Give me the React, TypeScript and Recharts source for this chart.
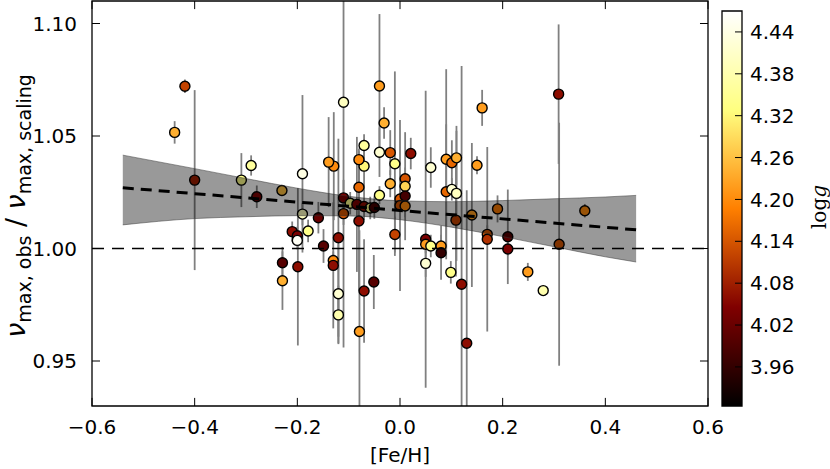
import React from "react";
import {
  ComposedChart,
  Scatter,
  ErrorBar,
  Area,
  Line,
  XAxis,
  YAxis,
  ReferenceLine,
  ReferenceArea,
} from "recharts";

// stars: [Fe/H], nu_max ratio, error on the ratio, log g
const feh = [
  -0.419, -0.439, -0.4, -0.309, -0.29, -0.279, -0.23, -0.19, -0.19, -0.159,
  -0.21, -0.2, -0.2, -0.179, -0.149, -0.12, -0.01, 0.05, 0.05, 0.06,
  0.08, 0.08, 0.05, 0.099, 0.12, 0.13, 0.17, 0.17, 0.21, 0.21,
  0.249, 0.279, 0.31, 0.309, 0.36, 0.19, 0.14, 0.109, 0.16, 0.06,
  0.09, 0.101, 0.11, 0.15, 0.09, 0.101, 0.11, 0.021, -0.019, -0.04,
  -0.01, 0.01, 0.01, -0.019, -0.04, -0.08, -0.07, -0.07, -0.08, -0.129,
  -0.139, -0.11, -0.031, -0.04, -0.11, -0.097, -0.084, -0.07, -0.058, -0.05,
  0.0, 0.01, 0.0, 0.01, -0.11, -0.08, -0.229, -0.229, -0.199, -0.13,
  -0.13, -0.12, -0.12, -0.079, -0.07, -0.051,
];
const ratio = [
  1.0721, 1.0516, 1.0304, 1.0304, 1.0369, 1.023, 1.0258, 1.0332, 1.0153, 1.0137,
  1.0075, 1.0057, 1.0036, 1.0078, 1.0011, 1.0048, 1.0062, 1.0041, 1.0019, 1.0011,
  1.0011, 0.9981, 0.9934, 0.9894, 0.9841, 0.9579, 1.0063, 1.0041, 1.0052, 0.9998,
  0.9896, 0.9813, 1.0019, 1.0686, 1.0168, 1.0176, 1.0149, 1.0126, 1.0625, 1.036,
  1.0397, 1.0381, 1.0403, 1.037, 1.0252, 1.0263, 1.0245, 1.0422, 1.0426, 1.0428,
  1.0377, 1.031, 1.0277, 1.0288, 1.0237, 1.0272, 1.0458, 1.0366, 1.0395, 1.0366,
  1.0384, 1.065, 1.0558, 1.0722, 1.0225, 1.0201, 1.0196, 1.0187, 1.018, 1.0182,
  1.022, 1.0233, 1.0191, 1.0189, 1.0155, 1.0122, 0.9937, 0.9857, 0.9919, 0.9947,
  0.9925, 0.9799, 0.9705, 0.9631, 0.9811, 0.9851,
];
const ratioErr = [
  0.003, 0.005, 0.04, 0.012, 0.0045, 0.005, 0.002, 0.035, 0.005, 0.007,
  0.0045, 0.004, 0.004, 0.005, 0.0075, 0.044, 0.008, 0.066, 0.004, 0.005,
  0.005, 0.012, 0.006, 0.005, 0.097, 0.068, 0.004, 0.041, 0.021, 0.003,
  0.004, 0.002, 0.054, 0.031, 0.003, 0.006, 0.032, 0.025, 0.008, 0.009,
  0.04, 0.01, 0.012, 0.004, 0.03, 0.005, 0.03, 0.007, 0.01, 0.011,
  0.041, 0.005, 0.024, 0.006, 0.004, 0.01, 0.005, 0.012, 0.005, 0.024,
  0.02, 0.109, 0.007, 0.032, 0.008, 0.005, 0.03, 0.006, 0.005, 0.005,
  0.005, 0.004, 0.038, 0.005, 0.005, 0.031, 0.007, 0.013, 0.035, 0.004,
  0.028, 0.022, 0.013, 0.045, 0.023, 0.012,
];
const logg = [
  4.12, 4.24, 4.08, 4.34, 4.36, 4.04, 4.26, 4.44, 4.4, 4.02,
  4.06, 4.04, 4.46, 4.34, 4.0, 4.06, 4.12, 4.04, 4.22, 4.34,
  4.22, 3.96, 4.42, 4.34, 4.06, 4.06, 4.14, 4.1, 4.0, 4.04,
  4.22, 4.38, 4.14, 4.06, 4.2, 4.18, 4.22, 4.12, 4.22, 4.42,
  4.22, 4.16, 4.24, 4.22, 4.16, 4.42, 4.4, 4.06, 4.14, 4.42,
  4.34, 4.14, 4.28, 4.24, 4.34, 4.16, 4.36, 4.32, 4.2, 4.2,
  4.22, 4.4, 4.24, 4.22, 4.04, 4.34, 4.04, 4.06, 4.34, 3.98,
  4.14, 3.98, 4.14, 4.2, 4.14, 4.06, 4.0, 4.24, 4.06, 4.2,
  4.06, 4.42, 4.38, 4.22, 4.06, 4.0,
];

// confidence band and fitted line
const bandFeh = [-0.54, -0.4, -0.3, -0.2, -0.1, 0.0, 0.1, 0.2, 0.3, 0.4, 0.46];
const bandLo = [1.0105, 1.0133, 1.0141, 1.0146, 1.0145, 1.0128, 1.0095, 1.0053, 1.0008, 0.9963, 0.994];
const bandHi = [1.0415, 1.0355, 1.0311, 1.0268, 1.0232, 1.0212, 1.0208, 1.0213, 1.0221, 1.0229, 1.0236];
const fitFeh = [-0.54, 0.46];
const fitRatio = [1.027, 1.0083];

const xTicks = [-0.6, -0.4, -0.2, 0, 0.2, 0.4, 0.6];
const yTicks = [0.95, 1.0, 1.05, 1.1];
const cbTicks = [3.96, 4.02, 4.08, 4.14, 4.2, 4.26, 4.32, 4.38, 4.44];

const X_DOMAIN: [number, number] = [-0.6, 0.6];
const Y_DOMAIN: [number, number] = [0.93, 1.11];
const LOGG_MIN = 3.904;
const LOGG_MAX = 4.47;
// inward tick length (~8px) expressed in axis units
const TICK_DY = 0.0036;
const TICK_DX = 0.0156;

const points = feh.map((f, i) => ({ feh: f, ratio: ratio[i], err: ratioErr[i], logg: logg[i] }));
const bandData = bandFeh.map((f, i) => ({ feh: f, range: [bandLo[i], bandHi[i]] }));
const fitData = fitFeh.map((f, i) => ({ feh: f, fit: fitRatio[i] }));

const FONT = "DejaVu Sans";
const W = 830;
const H = 469;
const PLOT = { top: 1, right: 122, bottom: 63, left: 92 };

function afmhot(v: number) {
  const t = Math.min(1, Math.max(0, (v - LOGG_MIN) / (LOGG_MAX - LOGG_MIN)));
  const c = (x: number) => Math.round(255 * Math.min(1, Math.max(0, x)));
  return `rgb(${c(2 * t)},${c(2 * t - 0.5)},${c(2 * t - 1)})`;
}

const Dot = (props: any) => {
  const { cx, cy, payload } = props;
  if (cx == null || cy == null) return null;
  return <circle cx={cx} cy={cy} r={5} fill={afmhot(payload.logg)} stroke="#000" strokeWidth={1.4} />;
};

const fmtX = (v: number) => (v < 0 ? "\u2212" : "") + Math.abs(v).toFixed(1);
const tickStyle = { fill: "#000", fontSize: 20, fontFamily: FONT };

function DataLayer() {
  return (
    <div
      style={{
        position: "absolute",
        left: 0,
        top: 0,
        clipPath: `inset(${PLOT.top}px ${PLOT.right}px ${PLOT.bottom}px ${PLOT.left}px)`,
      }}
    >
      <ComposedChart width={W} height={H} margin={PLOT}>
        <XAxis dataKey="feh" type="number" domain={X_DOMAIN} allowDataOverflow hide />
        <YAxis dataKey="ratio" type="number" domain={Y_DOMAIN} allowDataOverflow hide />
        <Scatter data={points} dataKey="ratio" shape={Dot} isAnimationActive={false}>
          <ErrorBar dataKey="err" direction="y" width={0} stroke="#808080" strokeWidth={1.8} />
        </Scatter>
        <Area
          data={bandData}
          dataKey="range"
          type="monotone"
          fill="#000"
          fillOpacity={0.4}
          stroke="#333"
          strokeOpacity={0.5}
          strokeWidth={1}
          isAnimationActive={false}
          zIndex={650}
        />
        <ReferenceLine y={1} stroke="#000" strokeWidth={1.5} strokeDasharray="12 8" zIndex={655} />
        <Line
          data={fitData}
          dataKey="fit"
          stroke="#000"
          strokeWidth={3}
          strokeDasharray="11 7"
          dot={false}
          isAnimationActive={false}
          zIndex={660}
        />
      </ComposedChart>
    </div>
  );
}

function AxesLayer() {
  const [x0, x1] = X_DOMAIN;
  const [y0, y1] = Y_DOMAIN;
  return (
    <div style={{ position: "absolute", left: 0, top: 0 }}>
      <ComposedChart width={W} height={H} data={points} margin={{ top: 1, right: 122, bottom: 33, left: 32 }}>
        <XAxis
          dataKey="feh"
          type="number"
          domain={X_DOMAIN}
          ticks={xTicks}
          tickFormatter={fmtX}
          allowDataOverflow
          height={30}
          tickSize={0}
          tickMargin={14}
          tick={tickStyle}
          axisLine={false}
          tickLine={false}
        />
        <YAxis
          dataKey="ratio"
          type="number"
          domain={Y_DOMAIN}
          ticks={yTicks}
          tickFormatter={(v: number) => v.toFixed(2)}
          allowDataOverflow
          width={60}
          tickSize={0}
          tickMargin={15}
          tick={tickStyle}
          axisLine={false}
          tickLine={false}
        />
        <ReferenceArea y1={y0} y2={y1} fill="none" stroke="#000" strokeWidth={1.3} ifOverflow="visible" />
        {xTicks.map((t) => (
          <ReferenceLine
            key={`xb${t}`}
            segment={[{ x: t, y: y0 }, { x: t, y: y0 + TICK_DY }]}
            stroke="#000"
            ifOverflow="visible"
          />
        ))}
        {xTicks.map((t) => (
          <ReferenceLine
            key={`xt${t}`}
            segment={[{ x: t, y: y1 }, { x: t, y: y1 - TICK_DY }]}
            stroke="#000"
            ifOverflow="visible"
          />
        ))}
        {yTicks.map((t) => (
          <ReferenceLine
            key={`yl${t}`}
            segment={[{ x: x0, y: t }, { x: x0 + TICK_DX, y: t }]}
            stroke="#000"
            ifOverflow="visible"
          />
        ))}
        {yTicks.map((t) => (
          <ReferenceLine
            key={`yr${t}`}
            segment={[{ x: x1, y: t }, { x: x1 - TICK_DX, y: t }]}
            stroke="#000"
            ifOverflow="visible"
          />
        ))}
      </ComposedChart>
    </div>
  );
}

function ColorBar() {
  return (
    <div style={{ position: "absolute", left: 700, top: 0 }}>
      <ComposedChart
        width={130}
        height={H}
        data={cbTicks.map((v) => ({ pos: 0.5, logg: v }))}
        margin={{ top: 11, right: 28, bottom: 63, left: 22 }}
      >
        <defs>
          <linearGradient id="afmhot" x1="0" y1="1" x2="0" y2="0">
            <stop offset="0" stopColor="#000000" />
            <stop offset="0.25" stopColor="#800000" />
            <stop offset="0.5" stopColor="#ff8000" />
            <stop offset="0.75" stopColor="#ffff80" />
            <stop offset="1" stopColor="#ffffff" />
          </linearGradient>
        </defs>
        <XAxis dataKey="pos" type="number" domain={[0, 1]} allowDataOverflow hide />
        <YAxis
          dataKey="logg"
          orientation="right"
          type="number"
          domain={[LOGG_MIN, LOGG_MAX]}
          ticks={cbTicks}
          tickFormatter={(v: number) => v.toFixed(2)}
          allowDataOverflow
          width={60}
          tickSize={0}
          tickMargin={8}
          tick={tickStyle}
          axisLine={false}
          tickLine={false}
        />
        <ReferenceArea
          y1={LOGG_MIN}
          y2={LOGG_MAX}
          fill="url(#afmhot)"
          fillOpacity={1}
          stroke="#000"
          strokeWidth={1.3}
          ifOverflow="visible"
        />
        {cbTicks.map((t) => (
          <ReferenceLine
            key={`cb${t}`}
            segment={[{ x: 0.65, y: t }, { x: 1, y: t }]}
            stroke="#000"
            ifOverflow="visible"
          />
        ))}
      </ComposedChart>
    </div>
  );
}

export default function App() {
  return (
    <div style={{ position: "absolute", left: 0, top: 0, width: W, height: H, background: "#fff" }}>
      <DataLayer />
      <AxesLayer />
      <ColorBar />
      <svg width={W} height={H} style={{ position: "absolute", left: 0, top: 0, pointerEvents: "none" }}>
        <text x={400} y={462} textAnchor="middle" fontSize={20} fontFamily={FONT} fill="#000">
          [Fe/H]
        </text>
        <text transform="translate(25,206) rotate(-90)" textAnchor="middle" fontSize={27} fontFamily={FONT} fill="#000">
          <tspan fontStyle="italic">ν</tspan>
          <tspan fontSize={19} dy={6}>max, obs</tspan>
          <tspan dy={-6}> / </tspan>
          <tspan fontStyle="italic">ν</tspan>
          <tspan fontSize={19} dy={6}>max, scaling</tspan>
        </text>
        <text transform="translate(826,207) rotate(-90)" textAnchor="middle" fontSize={20} fontFamily="DejaVu Serif" fill="#000">
          log<tspan fontStyle="italic">g</tspan>
        </text>
      </svg>
    </div>
  );
}
